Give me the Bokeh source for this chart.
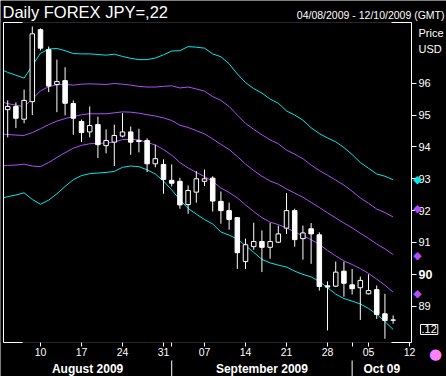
from bokeh.plotting import figure
from bokeh.models import (ColumnDataSource, Range1d, LinearAxis, FixedTicker, Label,
                          BoxAnnotation)
from bokeh.core.properties import value
from bokeh.embed import file_html
from bokeh.resources import INLINE

# ---------------- data ----------------
sessions = [
    "2009-08-03", "2009-08-04", "2009-08-05", "2009-08-06", "2009-08-07",
    "2009-08-10", "2009-08-11", "2009-08-12", "2009-08-13", "2009-08-14",
    "2009-08-17", "2009-08-18", "2009-08-19", "2009-08-20", "2009-08-21",
    "2009-08-24", "2009-08-25", "2009-08-26", "2009-08-27", "2009-08-28",
    "2009-08-31", "2009-09-01", "2009-09-02", "2009-09-03", "2009-09-04",
    "2009-09-07", "2009-09-08", "2009-09-09", "2009-09-10", "2009-09-11",
    "2009-09-14", "2009-09-15", "2009-09-16", "2009-09-17", "2009-09-18",
    "2009-09-21", "2009-09-22", "2009-09-23", "2009-09-24", "2009-09-25",
    "2009-09-28", "2009-09-29", "2009-09-30", "2009-10-01", "2009-10-02",
    "2009-10-05", "2009-10-06", "2009-10-07", "2009-10-08", "2009-10-09",
    "2009-10-12",
]
candle_dates = sessions[1:49]
band_dates = sessions[0:49]

open_ = [95.17, 95.27, 94.87, 95.42, 97.68, 97.05, 95.96, 96.08, 95.36, 94.80,
         94.47, 94.70, 94.04, 94.15, 94.34, 94.47, 94.20, 94.20, 93.47, 93.45,
         92.95, 92.92, 92.19, 92.58, 92.92, 93.02, 92.29, 92.00, 91.78, 90.40,
         90.87, 91.03, 90.85, 91.01, 91.45, 92.00, 91.12, 91.43, 91.24, 89.64,
         89.63, 90.10, 89.67, 89.58, 89.39, 89.52, 88.76, 88.57]
high = [95.46, 95.40, 95.80, 97.78, 97.72, 97.15, 96.74, 96.50, 95.46, 94.86,
        95.27, 94.95, 94.55, 94.70, 95.06, 94.64, 94.57, 94.27, 94.07, 93.61,
        93.45, 93.03, 92.79, 93.24, 93.29, 93.08, 92.60, 92.25, 91.79, 91.12,
        91.62, 91.38, 91.62, 91.53, 92.55, 92.06, 91.53, 91.61, 91.32, 89.78,
        90.40, 90.40, 90.17, 89.93, 90.00, 89.65, 89.39, 88.71]
low = [94.30, 94.59, 94.74, 95.00, 97.03, 95.72, 95.09, 94.99, 94.38, 94.15,
       94.30, 93.65, 93.80, 93.40, 94.30, 93.75, 93.83, 93.21, 93.36, 92.53,
       92.76, 92.06, 91.90, 92.25, 92.77, 91.97, 91.59, 91.40, 90.17, 90.17,
       90.77, 90.07, 90.49, 90.98, 91.27, 90.87, 90.46, 90.33, 89.49, 88.24,
       89.60, 89.30, 89.37, 88.57, 89.37, 88.60, 87.98, 88.45]
close = [95.27, 94.90, 95.46, 97.55, 97.10, 95.91, 96.05, 95.37, 94.90, 94.45,
         94.67, 94.07, 94.20, 94.36, 94.47, 94.15, 94.17, 93.47, 93.63, 92.98,
         92.86, 92.18, 92.63, 93.00, 93.00, 92.30, 92.00, 91.72, 90.68, 90.93,
         91.03, 90.85, 91.03, 91.27, 92.00, 91.09, 91.30, 91.27, 89.62, 89.60,
         90.07, 89.72, 89.55, 89.81, 89.49, 88.74, 88.55, 88.56]

band_upper2 = [96.45, 96.34, 96.25, 96.16, 96.55, 96.94, 97.07, 97.09, 97.02, 96.93,
               96.92, 96.92, 96.90, 96.88, 96.91, 96.84, 96.78, 96.74, 96.74, 96.79,
               96.89, 97.01, 97.02, 97.15, 97.13, 97.10, 96.92, 96.83, 96.61, 96.29,
               96.02, 95.83, 95.69, 95.50, 95.37, 95.13, 95.00, 94.84, 94.60, 94.42,
               94.28, 94.16, 93.98, 93.76, 93.51, 93.33, 93.15, 93.08, 92.97]
band_upper1 = [95.43, 95.36, 95.31, 95.26, 95.50, 95.76, 95.89, 95.95, 95.96, 95.94,
               95.97, 95.98, 95.97, 95.96, 95.99, 95.97, 95.94, 95.90, 95.88, 95.88,
               95.90, 95.92, 95.85, 95.88, 95.82, 95.75, 95.58, 95.46, 95.27, 95.00,
               94.74, 94.55, 94.38, 94.22, 94.10, 93.90, 93.77, 93.63, 93.43, 93.26,
               93.11, 92.96, 92.80, 92.61, 92.40, 92.23, 92.05, 91.94, 91.80]
band_mid = [94.41, 94.39, 94.37, 94.36, 94.45, 94.57, 94.70, 94.81, 94.89, 94.95,
            95.01, 95.04, 95.04, 95.04, 95.07, 95.10, 95.09, 95.06, 95.01, 94.97,
            94.91, 94.83, 94.68, 94.61, 94.51, 94.41, 94.25, 94.08, 93.92, 93.70,
            93.46, 93.26, 93.08, 92.93, 92.83, 92.68, 92.55, 92.42, 92.26, 92.10,
            91.93, 91.77, 91.61, 91.46, 91.29, 91.13, 90.95, 90.80, 90.62]
band_lower1 = [93.39, 93.42, 93.43, 93.46, 93.40, 93.38, 93.51, 93.67, 93.82, 93.96,
               94.05, 94.10, 94.11, 94.12, 94.15, 94.23, 94.24, 94.22, 94.14, 94.06,
               93.92, 93.74, 93.51, 93.34, 93.20, 93.07, 92.92, 92.71, 92.57, 92.40,
               92.18, 91.97, 91.78, 91.64, 91.56, 91.46, 91.33, 91.21, 91.09, 90.94,
               90.75, 90.58, 90.42, 90.31, 90.18, 90.03, 89.85, 89.66, 89.44]
band_lower2 = [92.37, 92.44, 92.49, 92.56, 92.35, 92.20, 92.33, 92.53, 92.76, 92.97,
               93.10, 93.16, 93.18, 93.20, 93.23, 93.36, 93.40, 93.38, 93.28, 93.15,
               92.93, 92.65, 92.34, 92.07, 91.89, 91.72, 91.58, 91.33, 91.23, 91.11,
               90.90, 90.69, 90.47, 90.36, 90.29, 90.23, 90.10, 90.00, 89.92, 89.78,
               89.58, 89.38, 89.24, 89.16, 89.07, 88.93, 88.75, 88.52, 88.27]

marker_prices = [92.97, 92.06, 90.58, 89.41]
marker_colors = ["#00e8f0", "#b04cff", "#b04cff", "#b04cff"]
last_box_text = ".12"

price_ticks = [89, 90, 91, 92, 93, 94, 95, 96]
day_tick_dates = ["2009-08-10", "2009-08-17", "2009-08-24", "2009-08-31", "2009-09-07",
                  "2009-09-14", "2009-09-21", "2009-09-28", "2009-10-05", "2009-10-12"]
month_start_dates = ["2009-09-01", "2009-10-01"]
month_labels = ["August 2009", "September 2009", "Oct 09"]

title_text = "Daily FOREX JPY=,22"
range_text = "04/08/2009 - 12/10/2009 (GMT)"

# ---------------- layout ----------------
CYAN = "#00e8f0"
PURPLE = "#b04cff"
GREY = "#808080"
FONT = "Liberation Sans"
W, H = 446, 376

idx = {d: i for i, d in enumerate(sessions)}
# chart box: pixels 3..411 (x), 22..342 (y)
X0, X1 = 0.4878, 50.24
Y0, Y1 = 87.861, 97.905
FL, FR, FT, FB = 3, 411, 22, 342
KX = (FR - FL) / (X1 - X0)
KY = (FB - FT) / (Y1 - Y0)


def sx(px):
    return X0 + (px - FL) / KX


def sy(py):
    return Y1 - (py - FT) / KY


p = figure(width=W, height=H, x_range=Range1d(sx(0), sx(W)), y_range=Range1d(sy(H), sy(0)),
           output_backend="svg", toolbar_location=None,
           x_axis_location=None, y_axis_location=None,
           min_border=0, min_border_left=0, min_border_right=0, min_border_top=0,
           min_border_bottom=0,
           background_fill_color="black", border_fill_color="black",
           outline_line_color=None)
p.grid.visible = False

# bands
bx = [idx[d] for d in band_dates]
for ys, col in [(band_upper2, CYAN), (band_upper1, PURPLE), (band_mid, PURPLE),
                (band_lower1, PURPLE), (band_lower2, CYAN)]:
    p.line(bx, ys, line_color=col, line_width=1)

# candles
cx = [idx[d] for d in candle_dates]
up = [c >= o for o, c in zip(open_, close)]
src = ColumnDataSource(dict(
    x=cx, high=high, low=low,
    top=[max(o, c) for o, c in zip(open_, close)],
    bottom=[min(o, c) for o, c in zip(open_, close)],
    fill=["black" if u else "white" for u in up],
))
p.segment(x0="x", y0="low", x1="x", y1="high", source=src, line_color="white", line_width=1)
p.vbar(x="x", top="top", bottom="bottom", width=0.55, source=src,
       fill_color="fill", line_color="white", line_width=1)

# cover outside of the chart box on the left, then the chart box frame
p.add_layout(BoxAnnotation(right=X0, top=Y1, bottom=Y0, fill_color="black", fill_alpha=1,
                           line_color=None))
p.add_layout(BoxAnnotation(left=X0, right=X1, top=Y1, bottom=Y0, fill_alpha=0,
                           line_color=GREY, line_width=1))
dx, dy = 1 / KX, 1 / KY
frame_pieces = [
    (X0 - dx / 2, X0 + dx / 2, Y1, Y0),              # left side
    (X1 - dx / 2, X1 + dx / 2, Y1, Y0),              # right side
    (X0, sx(22), Y1 + dy / 2, Y1 - dy / 2),          # corners
    (sx(391), X1, Y1 + dy / 2, Y1 - dy / 2),
    (X0, sx(22), Y0 + dy / 2, Y0 - dy / 2),
    (sx(391), X1, Y0 + dy / 2, Y0 - dy / 2),
]
for l, r, t, b in frame_pieces:
    p.add_layout(BoxAnnotation(left=l, right=r, top=t, bottom=b, fill_color="white",
                               fill_alpha=1, line_color=None))

# right price axis (placed at the chart box's right edge)
ya = LinearAxis(ticker=FixedTicker(ticks=price_ticks), fixed_location=X1,
                major_label_overrides={90: ""},
                axis_line_color=None, major_tick_line_color="white",
                major_tick_out=5, major_tick_in=0, minor_tick_line_color=None,
                major_label_text_color="white", major_label_text_font=FONT,
                major_label_text_font_size="11px", major_label_standoff=2)
p.add_layout(ya, "right")

# bottom day axis (placed at the chart box's bottom edge)
day_ticks = [idx[d] for d in day_tick_dates]
month_ticks = [idx[d] for d in month_start_dates]
overrides = {t: d[-2:] for t, d in zip(day_ticks, day_tick_dates)}
for t in month_ticks:
    overrides[t] = ""
xa = LinearAxis(ticker=FixedTicker(ticks=sorted(day_ticks + month_ticks)), fixed_location=Y0,
                major_label_overrides=overrides,
                axis_line_color=None, major_tick_line_color="white",
                major_tick_out=4, major_tick_in=0, minor_tick_line_color=None,
                major_label_text_color="white", major_label_text_font=FONT,
                major_label_text_font_size="10.5px", major_label_standoff=1)
p.add_layout(xa, "below")

# month row: labels centred in each month span, dividers at month starts
bounds = [X0] + month_ticks + [X1]
centers = [(bounds[k] + bounds[k + 1]) / 2 for k in range(len(month_labels))]
p.text(x=centers, y=[sy(368)] * len(centers), text=month_labels, text_color="white",
       text_font=value(FONT), text_font_style="bold", text_font_size="12px",
       text_align="center", text_baseline="middle")
p.segment(x0=month_ticks, x1=month_ticks, y0=[sy(360)] * len(month_ticks),
          y1=[sy(377)] * len(month_ticks), line_color="white", line_width=1)

# texts
p.add_layout(Label(x=sx(2), y=sy(2), text=title_text, text_color="white",
                   text_font=FONT, text_font_size="16.5px", text_baseline="top"))
p.add_layout(Label(x=sx(444), y=sy(14), text=range_text, text_color="white",
                   text_font=FONT, text_font_size="10.5px", text_align="right",
                   text_baseline="middle"))
p.add_layout(Label(x=sx(418), y=sy(32), text="Price", text_color="white",
                   text_font=FONT, text_font_size="11px", text_baseline="middle"))
p.add_layout(Label(x=sx(418), y=sy(48), text="USD", text_color="white",
                   text_font=FONT, text_font_size="11px", text_baseline="middle"))
p.add_layout(Label(x=sx(418), y=90, text="90", text_color="white",
                   text_font=FONT, text_font_size="12.5px", text_font_style="bold",
                   text_baseline="middle"))

for mp, mc in zip(marker_prices, marker_colors):
    p.add_layout(Label(x=sx(417), y=mp, text="\u25C6", text_color=mc,
                       text_font="DejaVu Sans", text_font_size="11px",
                       text_align="center", text_baseline="middle"))

p.add_layout(Label(x=sx(420), y=band_lower2[-1], text=last_box_text, text_color="white",
                   text_font=FONT, text_font_size="11px", text_baseline="middle",
                   border_line_color="white", background_fill_color="black",
                   padding=1))
p.add_layout(Label(x=sx(435), y=sy(353), text="\u25CF", text_color="#ff80ff",
                   text_font="DejaVu Sans", text_font_size="15px",
                   text_align="center", text_baseline="middle"))

open("out.html", "w").write(file_html(p, INLINE))
